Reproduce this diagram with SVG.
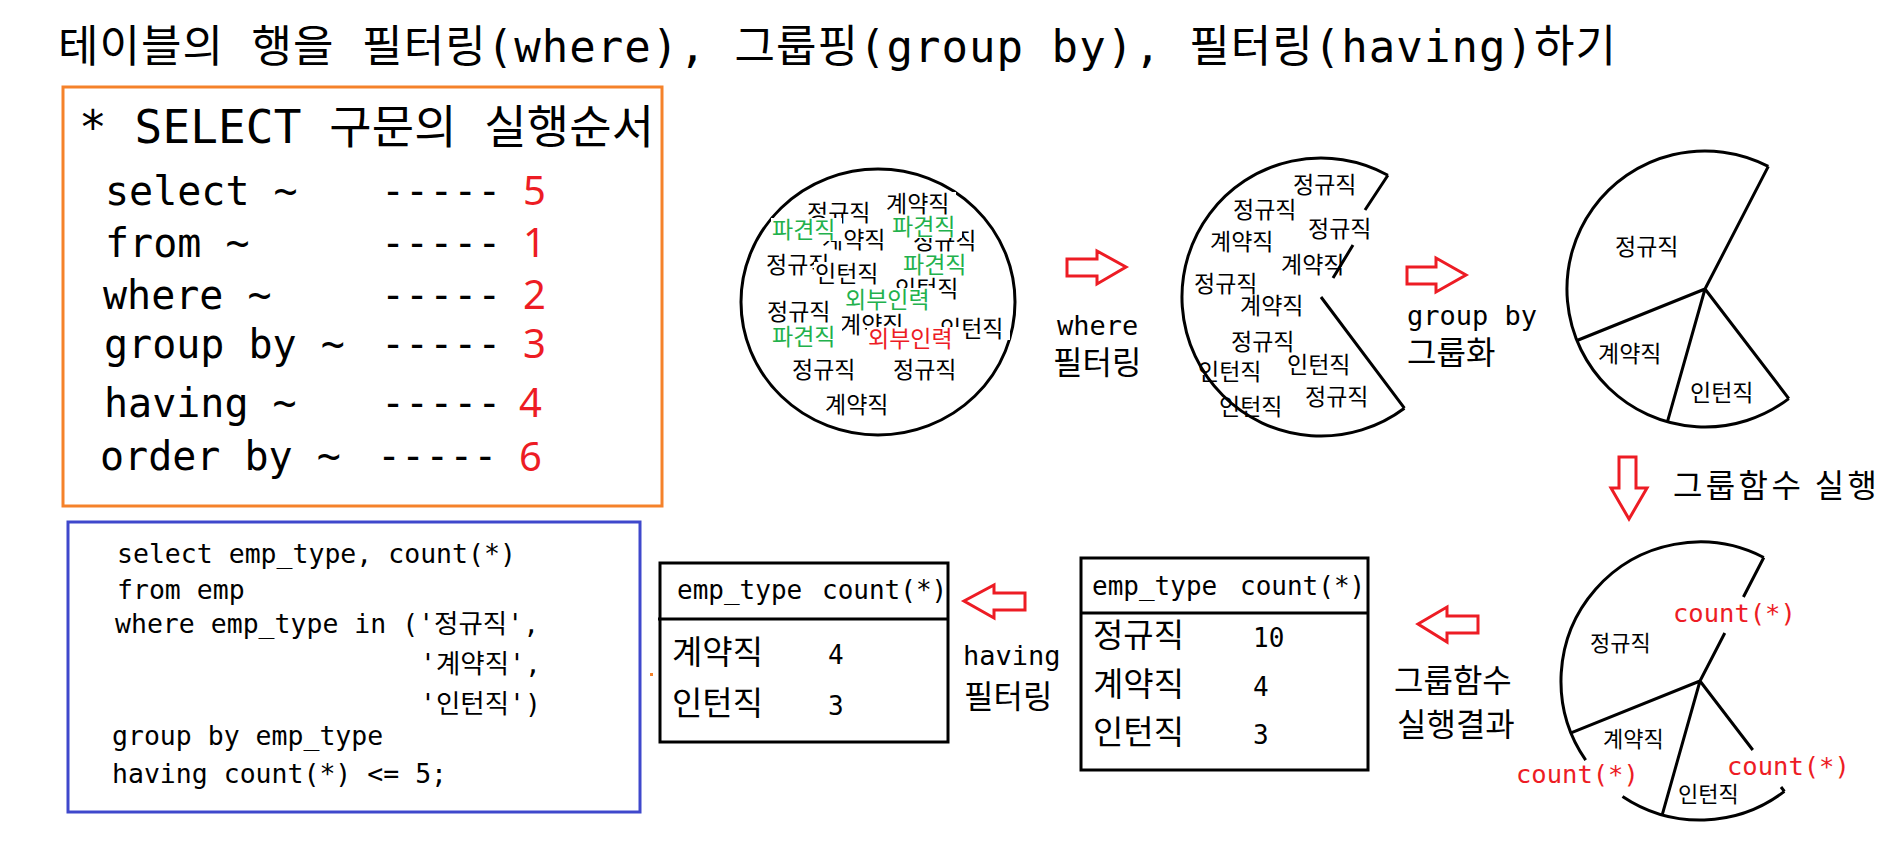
<svg xmlns="http://www.w3.org/2000/svg" width="1898" height="865" viewBox="0 0 1898 865">
<style>
  text { font-family: "DejaVu Sans Mono", "Noto Sans CJK KR", monospace; fill: #000; }
  .kr { font-family: "Noto Sans CJK KR", sans-serif; }
  .red { fill: #ED1C24; }
  .grn { fill: #22B14C; }
  .num { font-family: "Noto Sans", "Liberation Sans", sans-serif; fill: #ED1C24; }
  .ln { fill: none; stroke: #000; stroke-width: 3; }
  .arrow { fill: #fff; stroke: #ED1C24; stroke-width: 3; }
  .bg { fill: #fff; }
  .c1 { font-size: 23px; }
</style>
<rect width="1898" height="865" fill="#fff"/>

<g id="title">
  <text x="58" y="62" font-size="44" textLength="1558" lengthAdjust="spacing">테이블의 행을 필터링(where), 그룹핑(group by), 필터링(having)하기</text>
</g>

<g id="order-box">
  <rect x="63" y="87" width="599" height="419" fill="none" stroke="#F5822A" stroke-width="3"/>
  <text x="79" y="143" font-size="46" textLength="575" lengthAdjust="spacing">* SELECT 구문의 실행순서</text>
  <g font-size="40">
    <text x="105" y="205">select ~</text>
    <text x="105" y="257">from ~</text>
    <text x="103" y="309">where ~</text>
    <text x="104" y="358">group by ~</text>
    <text x="104" y="417">having ~</text>
    <text x="100" y="470">order by ~</text>
    <text x="381" y="205">-----</text>
    <text x="381" y="257">-----</text>
    <text x="381" y="309">-----</text>
    <text x="381" y="358">-----</text>
    <text x="381" y="417">-----</text>
    <text x="377" y="470">-----</text>
  </g>
  <g font-size="40">
    <text class="num" x="523" y="205">5</text>
    <text class="num" x="523" y="257">1</text>
    <text class="num" x="523" y="309">2</text>
    <text class="num" x="523" y="358">3</text>
    <text class="num" x="519" y="417">4</text>
    <text class="num" x="519" y="471">6</text>
  </g>
</g>

<g id="all-rows">
  <ellipse cx="878" cy="302" rx="137" ry="133" class="ln"/>
  <g class="c1">
    <rect class="bg" x="806" y="201" width="71" height="23"/><text class="kr" x="807" y="221">정규직</text>
    <rect class="bg" x="885" y="192" width="71" height="23"/><text class="kr" x="886" y="212">계약직</text>
    <rect class="bg" x="821" y="228" width="71" height="23"/><text class="kr" x="822" y="248">계약직</text>
    <rect class="bg" x="771" y="218" width="71" height="23"/><text class="kr grn" x="772" y="238">파견직</text>
    <rect class="bg" x="912" y="229" width="71" height="23"/><text class="kr" x="913" y="249">정규직</text>
    <rect class="bg" x="891" y="215" width="71" height="23"/><text class="kr grn" x="892" y="235">파견직</text>
    <rect class="bg" x="765" y="253" width="71" height="23"/><text class="kr" x="766" y="273">정규직</text>
    <rect class="bg" x="814" y="262" width="71" height="23"/><text class="kr" x="815" y="282">인턴직</text>
    <rect class="bg" x="902" y="253" width="71" height="23"/><text class="kr grn" x="903" y="273">파견직</text>
    <rect class="bg" x="894" y="277" width="71" height="23"/><text class="kr" x="895" y="297">인턴직</text>
    <rect class="bg" x="844" y="288" width="94" height="23"/><text class="kr grn" x="845" y="308">외부인력</text>
    <rect class="bg" x="766" y="300" width="71" height="23"/><text class="kr" x="767" y="320">정규직</text>
    <rect class="bg" x="839" y="313" width="71" height="23"/><text class="kr" x="840" y="333">계약직</text>
    <rect class="bg" x="939" y="317" width="71" height="23"/><text class="kr" x="940" y="337">인턴직</text>
    <rect class="bg" x="771" y="325" width="71" height="23"/><text class="kr grn" x="772" y="345">파견직</text>
    <rect class="bg" x="867" y="327" width="94" height="23"/><text class="kr red" x="868" y="347">외부인력</text>
    <text class="kr" x="792" y="378">정규직</text>
    <text class="kr" x="893" y="378">정규직</text>
    <text class="kr" x="825" y="413">계약직</text>
  </g>
</g>

<g id="filtered-rows">
  <path class="ln" d="M1387.9 175.2 A139 139 0 1 0 1404.4 408.2"/>
  <path class="ln" d="M1387.9 175.2 L1365 210 M1353 245 L1333 278 M1321 297 L1404.4 408.2"/>
  <g class="c1">
    <text class="kr" x="1293" y="193">정규직</text>
    <text class="kr" x="1233" y="218">정규직</text>
    <text class="kr" x="1308" y="237">정규직</text>
    <text class="kr" x="1210" y="250">계약직</text>
    <text class="kr" x="1281" y="273">계약직</text>
    <text class="kr" x="1194" y="292">정규직</text>
    <text class="kr" x="1240" y="314">계약직</text>
    <text class="kr" x="1231" y="350">정규직</text>
    <text class="kr" x="1198" y="380">인턴직</text>
    <text class="kr" x="1287" y="373">인턴직</text>
    <text class="kr" x="1305" y="405">정규직</text>
    <text class="kr" x="1219" y="415">인턴직</text>
  </g>
</g>

<g id="grouped">
  <path class="ln" d="M1768.3 166.4 A138 138 0 1 0 1788.8 398.6"/>
  <path class="ln" d="M1705 289 L1768.3 166.4 M1705 289 L1577 340.5 M1705 289 L1667.4 421.8 M1705 289 L1788.8 398.6"/>
  <text class="kr c1" x="1615" y="255">정규직</text>
  <text class="kr c1" x="1598" y="362">계약직</text>
  <text class="kr c1" x="1690" y="401">인턴직</text>
</g>

<g id="counted">
  <path class="ln" d="M1763.8 557.5 A139 139 0 0 0 1585.7 760.1 M1622.5 796.4 A139 139 0 0 0 1784.4 791.4"/>
  <path class="ln" d="M1763.8 557.5 L1743.4 597 M1724.8 633 L1700 681 L1571 732.9 M1700 681 L1662.2 814.8 M1700 681 L1752.8 750 M1781 787 L1784.4 791.4"/>
  <text class="kr" font-size="22" x="1590" y="651">정규직</text>
  <text class="kr" font-size="22" x="1603" y="747">계약직</text>
  <text class="kr" font-size="22" x="1678" y="802">인턴직</text>
  <text class="red" font-size="25.5" x="1673" y="622">count(*)</text>
  <text class="red" font-size="25.5" x="1516" y="783">count(*)</text>
  <text class="red" font-size="25.5" x="1727" y="775">count(*)</text>
</g>

<g id="result-table">
  <rect class="ln" x="1081" y="558" width="287" height="212"/>
  <line class="ln" x1="1081" y1="613" x2="1368" y2="613"/>
  <g font-size="26">
    <text x="1092" y="595">emp_type</text>
    <text x="1240" y="595">count(*)</text>
    <text x="1253" y="647">10</text>
    <text x="1253" y="696">4</text>
    <text x="1253" y="744">3</text>
  </g>
  <g font-size="33">
    <text class="kr" x="1093" y="647">정규직</text>
    <text class="kr" x="1093" y="696">계약직</text>
    <text class="kr" x="1093" y="744">인턴직</text>
  </g>
</g>

<g id="having-table">
  <rect class="ln" x="660" y="563" width="288" height="179"/>
  <line class="ln" x1="658" y1="619" x2="948" y2="619"/>
  <g font-size="26">
    <text x="677" y="599">emp_type</text>
    <text x="822" y="599">count(*)</text>
    <text x="828" y="664">4</text>
    <text x="828" y="715">3</text>
  </g>
  <g font-size="33">
    <text class="kr" x="672" y="664">계약직</text>
    <text class="kr" x="672" y="715">인턴직</text>
  </g>
</g>

<g id="sql-box">
  <rect x="68" y="522" width="572" height="290" fill="none" stroke="#3F48CC" stroke-width="3"/>
  <g font-size="26.5">
    <text x="117" y="563">select emp_type, count(*)</text>
    <text x="117" y="599">from emp</text>
    <text x="115" y="633">where emp_type in ('정규직',</text>
    <text x="420" y="673">'계약직',</text>
    <text x="420" y="713">'인턴직')</text>
    <text x="112" y="745">group by emp_type</text>
    <text x="112" y="783">having count(*) &lt;= 5;</text>
  </g>
</g>

<g id="connectors">
  <polygon class="arrow" points="1067,259 1097,259 1097,251 1126,267 1097,284 1097,276 1067,276"/>
  <polygon class="arrow" points="1407,267 1436,267 1436,258 1466,275 1436,292 1436,284 1407,284"/>
  <polygon class="arrow" points="1619,457 1636,457 1636,488 1647,488 1629,519 1611,488 1619,488"/>
  <polygon class="arrow" points="1478,616 1447,616 1447,607 1418,624 1447,642 1447,633 1478,633"/>
  <polygon class="arrow" points="1025,593 994,593 994,585 964,601 994,618 994,610 1025,610"/>
  <text font-size="27" x="1057" y="335">where</text>
  <text class="kr" font-size="32" x="1053" y="374">필터링</text>
  <text font-size="27" x="1407" y="325">group by</text>
  <text class="kr" font-size="32" x="1407" y="364">그룹화</text>
  <text class="kr" font-size="32" x="1673" y="497" textLength="204" lengthAdjust="spacing">그룹함수 실행</text>
  <text class="kr" font-size="32" x="1394" y="692">그룹함수</text>
  <text class="kr" font-size="32" x="1397" y="736">실행결과</text>
  <text font-size="27" x="963" y="665">having</text>
  <text class="kr" font-size="32" x="964" y="708">필터링</text>
</g>

<rect x="650" y="673" width="3" height="3" fill="#F5822A"/>
</svg>
